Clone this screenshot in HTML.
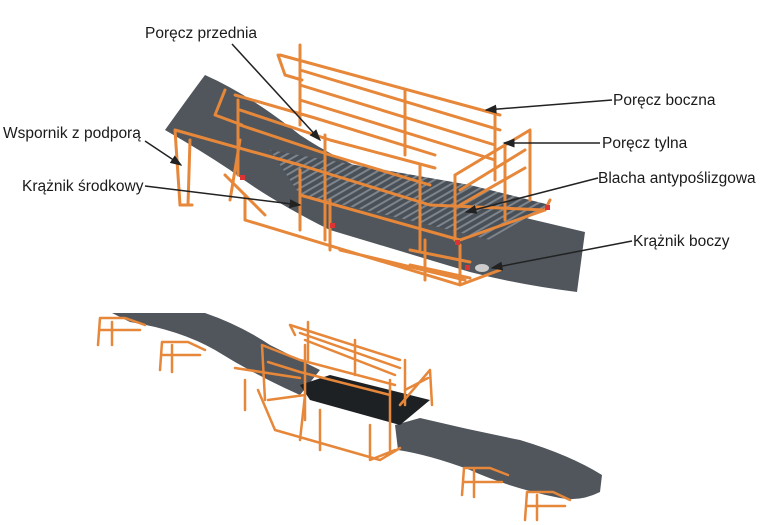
<!DOCTYPE html>
<html><head><meta charset="utf-8"><style>
html,body{margin:0;padding:0;background:#fff}
svg{display:block}
text{font-family:"Liberation Sans",sans-serif;font-size:15.5px;fill:#1a1a1a}
</style></head><body>
<svg width="768" height="525" viewBox="0 0 768 525" xmlns="http://www.w3.org/2000/svg">
<defs>
<pattern id="grate" width="6" height="6" patternUnits="userSpaceOnUse" patternTransform="rotate(60)">
<rect width="6" height="6" fill="#4a5058"/><rect width="2" height="6" fill="#7d848c"/>
</pattern>
<marker id="ah" markerWidth="8" markerHeight="8" refX="7" refY="4" orient="auto"><path d="M0,1 L8,4 L0,7 z" fill="#222"/></marker>
</defs>

<!-- TOP FIGURE -->
<path d="M165,130 Q190,95 205,75 Q250,95 300,135 Q360,175 450,200 L585,232 L577,292 Q520,285 470,272 Q380,245 330,230 Q270,200 230,170 Q200,150 165,130 Z" fill="#50565c"/>
<path d="M270,150 L470,185 L550,205 L490,240 L430,225 L300,195 Z" fill="url(#grate)"/>
<g stroke="#e6873a" stroke-width="3" fill="none" stroke-linecap="round" stroke-linejoin="round">
 <path d="M245,220 L460,285 L500,270 M245,220 L245,195 M330,200 L330,250 M460,285 L460,245 M340,250 L465,280"/>
 <path d="M175,130 L300,165 L430,205 L545,210 M175,130 L180,205 M190,140 L188,205"/>
 <path d="M225,175 L265,215 M300,170 L300,230"/>
 <path d="M300,195 L460,240 L545,210 L550,200"/>
 <path d="M425,240 L425,280 M410,250 L470,262 M410,265 L470,278"/>
 <path d="M235,95 L315,118 L435,155 M240,110 L330,140 L435,168 M240,125 L330,155 L430,185 M238,100 L238,175 M325,135 L325,240 M420,165 L420,250 M225,90 L215,115 L242,125"/>
 <path d="M280,55 L500,115 M300,70 L500,130 M300,85 L495,145 M300,100 L495,160 M300,45 L300,125 M405,90 L405,155 M495,108 L495,180 M278,55 L285,75 L302,80"/>
 <path d="M455,175 L530,130 L530,200 M455,175 L455,240 M460,190 L525,150 M460,205 L525,168 M505,145 L505,220"/>
 <path d="M180,205 L192,205 M240,140 L230,200"/>
</g>
<g fill="#d33"><rect x="240" y="175" width="5" height="5"/><rect x="330" y="223" width="5" height="5"/><rect x="455" y="240" width="5" height="5"/><rect x="465" y="265" width="5" height="5"/><rect x="545" y="205" width="5" height="5"/></g>
<ellipse cx="482" cy="268" rx="7" ry="4" fill="#ccc"/>

<text x="145" y="38">Poręcz przednia</text>
<text x="3" y="138">Wspornik z podporą</text>
<text x="22" y="191">Krążnik środkowy</text>
<text x="613" y="105">Poręcz boczna</text>
<text x="602" y="148">Poręcz tylna</text>
<text x="598" y="183">Blacha antypoślizgowa</text>
<text x="633" y="246">Krążnik boczy</text>
<g stroke="#222" stroke-width="1.5" marker-end="url(#ah)">
 <line x1="232" y1="44" x2="320" y2="140"/>
 <line x1="145" y1="141" x2="181" y2="165"/>
 <line x1="145" y1="186" x2="300" y2="205"/>
 <line x1="612" y1="100" x2="486" y2="110"/>
 <line x1="600" y1="143" x2="504" y2="143"/>
 <line x1="598" y1="178" x2="466" y2="212"/>
 <line x1="632" y1="241" x2="492" y2="268"/>
</g>

<!-- BOTTOM FIGURE -->
<path d="M112,313 L205,313 Q240,325 270,345 L320,370 L300,395 Q255,375 215,350 Q180,330 130,322 Z" fill="#50565c"/>
<path d="M395,425 L420,418 Q470,430 520,440 Q570,455 602,475 L600,492 Q580,502 560,498 Q510,488 470,470 Q430,455 398,450 Z" fill="#50565c"/>
<path d="M300,385 L330,375 L430,400 L400,425 L310,400 Z" fill="#1e2124"/>
<g stroke="#e6873a" stroke-width="2.5" fill="none" stroke-linecap="round" stroke-linejoin="round">
 <path d="M98,345 L100,318 L125,318 L145,325 M112,345 L112,322 M100,330 L140,330"/>
 <path d="M160,370 L162,342 L188,342 L205,350 M172,372 L172,345 M162,355 L200,355"/>
 <path d="M462,495 L464,468 L490,468 L508,475 M474,497 L474,470 M464,482 L502,482"/>
 <path d="M525,520 L527,492 L553,492 L570,500 M537,520 L537,495 M527,506 L565,506"/>
 <path d="M235,368 L300,378 M245,380 L245,410"/>
 <path d="M258,390 L275,430 L380,460 L400,448 M268,400 L305,395 L300,440 M320,410 L320,450 M370,425 L370,460 L395,450"/>
 <path d="M262,345 L300,360 L395,385 M262,345 L265,400 M268,362 L300,372 L390,395 M305,345 L305,420 M390,380 L390,450"/>
 <path d="M290,325 L400,360 M300,333 L400,368 M305,340 L395,375 M308,322 L308,360 M355,340 L355,375 M405,360 L405,405 M290,325 L295,335"/>
 <path d="M400,405 L430,370 L432,405 M405,390 L428,378"/>
</g>
</svg>
</body></html>
